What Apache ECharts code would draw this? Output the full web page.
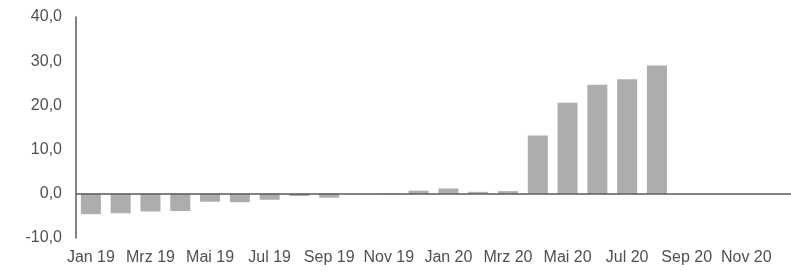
<!DOCTYPE html>
<html>
<head>
<meta charset="utf-8">
<script src="https://cdn.jsdelivr.net/npm/echarts@6/dist/echarts.min.js"></script>
<style>html,body{margin:0;padding:0;background:#fff;}#c{width:791px;height:271px;}</style>
</head>
<body>
<div id="c"></div>
<script>
var categories = ['Jan 19','Feb 19','Mrz 19','Apr 19','Mai 19','Jun 19','Jul 19','Aug 19','Sep 19','Okt 19','Nov 19','Dez 19',
                  'Jan 20','Feb 20','Mrz 20','Apr 20','Mai 20','Jun 20','Jul 20','Aug 20','Sep 20','Okt 20','Nov 20','Dez 20'];
var values = [-4.6, -4.4, -4.0, -3.9, -1.8, -1.9, -1.35, -0.5, -0.9, 0.0, -0.1, 0.7,
              1.2, 0.45, 0.6, 13.2, 20.6, 24.7, 25.9, 29.05, null, null, null, null];
var yMin = -10, yMax = 40, yStep = 10;

var chart = echarts.init(document.getElementById('c'));
chart.setOption({
  animation: false,
  grid: { left: 76, top: 17, bottom: 33, width: 720, containLabel: false },
  xAxis: {
    type: 'category',
    data: categories,
    axisLine: { show: false, onZero: false },
    axisTick: { show: false },
    axisLabel: { interval: 1, color: '#505050', fontFamily: 'Liberation Sans', fontSize: 16, margin: 12 },
    splitLine: { show: false }
  },
  yAxis: {
    type: 'value',
    min: yMin, max: yMax, interval: yStep,
    axisLine: { show: true, lineStyle: { color: '#595959', width: 1.5 } },
    axisTick: { show: false },
    splitLine: { show: false },
    axisLabel: {
      color: '#505050', fontFamily: 'Liberation Sans', fontSize: 16, margin: 14,
      formatter: function (v) { return v.toFixed(1).replace('.', ','); }
    }
  },
  series: [{
    type: 'bar',
    data: values,
    barWidth: 20,
    itemStyle: { color: '#adadad' },
    markLine: {
      silent: true,
      symbol: 'none',
      label: { show: false },
      lineStyle: { color: '#595959', type: 'solid', width: 1.5 },
      data: [{ yAxis: 0 }]
    }
  }]
});
</script>
</body>
</html>
